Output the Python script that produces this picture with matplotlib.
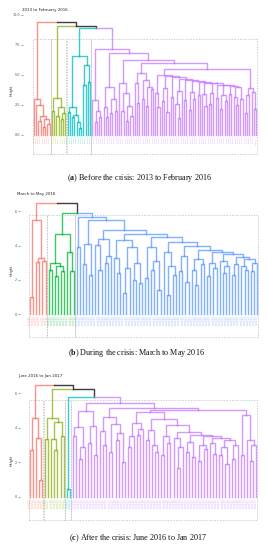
import matplotlib
matplotlib.use("Agg")
import matplotlib.pyplot as plt
from matplotlib.patches import Rectangle

plt.rcParams["mathtext.fontset"] = "custom"
plt.rcParams["mathtext.rm"] = "Liberation Serif"
plt.rcParams["mathtext.bf"] = "Liberation Serif:bold"

# ---------------- data: dendrogram trees (Newick-like, internal node = merge height) -------------
# Panel (a): 2013 to February 2016
TOP_A = "(R,(G,(C,P)8.9)9.1)9.4"
PARTS_A = {
    "R": "(x,(x,((x,x)1.2,((x,x)0.7,(x,x)0.9)1.3)1.6)2.5)3.0",
    "G": "((x,x)2.0,((x,x)1.6,((x,x)1.3,x)1.8)2.35)3.1",
    "C": "(((x,x)1.9,((x,x)1.5,(x,(x,x)0.6)1.1)1.7)2.3,((x,x)4.2,(x,x)4.4)5.8)6.6",
    "P": "(S1,(B1,(D1,(F1,(H1,K1)5.5)6.0)6.25)6.8)7.2",
    "S1": "(x,((x,x)1.1,(x,x)1.5)2.0)2.9",
    "B1": "((x,(x,x)1.5)2.3,((x,x)1.8,(x,x)2.0)3.0)4.0",
    "D1": "(x,((x,x)2.0,((x,x)1.2,(x,x)1.6)2.4)3.5)4.3",
    "F1": "((x,(x,x)2.7)4.3,((x,x)3.0,((x,x)2.4,(x,x)3.8)4.0)4.6)5.2",
    "H1": "(h1,(h2,(h3,(h4,(h5,(h6,(h7,(h8,(h9,(h10,(h11,(h12,(h13,h14)4.0)4.1)4.15)4.2)4.3)4.35)4.4)4.5)4.6)4.7)4.8)4.9)5.0",
    "h1": "(x,(x,x)2.3)3.5",
    "h2": "((x,x)2.8,(x,x)1.9)3.9",
    "h3": "(x,x)3.2",
    "h4": "((x,(x,x)1.4)2.6,x)3.7",
    "h5": "(x,x)2.9",
    "h6": "((x,x)2.1,(x,x)3.0)3.6",
    "h7": "(x,x)3.3",
    "h8": "(x,(x,x)2.4)3.4",
    "h9": "((x,x)2.6,x)3.5",
    "h10": "(x,x)3.1",
    "h11": "((x,x)2.2,(x,x)2.8)3.3",
    "h12": "(x,x)3.4",
    "h13": "(x,(x,x)2.5)3.2",
    "h14": "(x,x)3.0",
    "K1": "(((x,x)1.8,x)3.3,(x,(x,x)2.2)3.6)3.9",
}
COLORS_A = {"R": "#F8766D", "G": "#8DB41A", "C": "#00BFC4", "P": "#C77CFF"}
YTICKS_A = [0, 2.5, 5, 7.5, 10]
YTICKLABELS_A = ["0.0", "2.5", "5.0", "7.5", "10.0"]
BOX_A = (8.0, -1.6)
TITLE_A = "2013 to February 2016"
CAPTION_A = r"($\mathbf{a}$) Before the crisis: 2013 to February 2016"

# Panel (b): March to May 2016
TOP_B = "(R,(G,B)5.9)6.5"
PARTS_B = {
    "R": "((x,x)1.0,((x,x)3.05,(x,x)3.1)3.3)5.5",
    "G": "(((x,x)2.6,((x,x)2.2,(x,x)2.5)2.8)3.0,(x,(x,x)2.5)3.65)4.65",
    "B": "((x,x)3.9,(M1,(M2a,M2b)4.9)5.5)5.7",
    "M1": "((x,x)2.9,(x,x)2.3)4.1",
    "M2a": "((x,(x,x)2.6)4.05,((x,x)3.0,x)3.4)4.4",
    "M2b": "(q1,(q2,(q3,(q4,(q5,(q6,(q7,(q8,(q9,q10)3.2)3.35)3.5)3.6)3.75)3.95)4.2)4.5)4.7",
    "q1": "((x,(x,x)2.4)3.3,(((x,x)1.2,x)2.7,((x,x)2.0,(x,x)1.8)3.0)3.9)4.3",
    "q2": "((x,x)2.1,((x,x)2.6,(x,x)1.4)3.1)3.9",
    "q3": "(x,((x,x)1.1,(x,x)2.3)2.8)3.6",
    "q4": "((x,x)2.5,(x,x)1.9)3.4",
    "q5": "((x,(x,x)1.7)2.6,(x,x)2.9)3.2",
    "q6": "((x,x)2.2,(x,x)2.7)3.0",
    "q7": "(x,((x,x)2.4,x)2.8)3.1",
    "q8": "((x,x)2.3,x)2.9",
    "q9": "(x,(x,x)2.6)2.8",
    "q10": "((x,x)2.5,x)3.0",
}
COLORS_B = {"R": "#F8766D", "G": "#00BA38", "B": "#619CFF"}
YTICKS_B = [0, 2, 4, 6]
YTICKLABELS_B = ["0", "2", "4", "6"]
BOX_B = (5.8, -1.35)
TITLE_B = "March to May 2016"
CAPTION_B = r"($\mathbf{b}$) During the crisis: March to May 2016"

# Panel (c): June 2016 to Jan 2017
TOP_C = "(R,(G,(C,P)5.8)6.24)6.5"
PARTS_C = {
    "R": "((x,x)2.7,(x,(x,x)1.0)3.4)4.55",
    "G": "((x,x)3.35,((x,(x,x)2.7)3.35,(x,x)3.5)4.35)4.55",
    "C": "(x,x)0.45",
    "P": "((P1a,P1b)5.0,(P2a,(P3,K3)5.05)5.15)5.45",
    "P1a": "((x,x)3.5,((x,x)2.2,x)2.9)4.05",
    "P1b": "((x,x)3.1,(x,x)2.4)4.1",
    "P2a": "((x,(x,x)3.0)3.8,((x,x)2.6,((x,x)3.3,(x,x)2.0)3.7)4.2)4.6",
    "P3": "(t1,(t2,(t3,(t4,(t5,(t6,(t7,(t8,t9)3.3)3.4)3.5)3.6)3.75)4.15)4.5)4.9",
    "t1": "(((x,x)2.9,x)3.5,((x,x)3.6,x)3.95)4.3",
    "t2": "((x,x)3.3,(x,(x,x)2.6)3.0)3.9",
    "t3": "((x,x)2.4,(x,x)3.1)3.55",
    "t4": "(x,((x,x)1.7,x)2.9)3.4",
    "t5": "((x,x)2.6,(x,x)2.3)3.2",
    "t6": "((x,x)2.1,(x,x)2.8)3.0",
    "t7": "(x,(x,x)2.5)3.1",
    "t8": "((x,x)2.4,(x,x)1.9)2.9",
    "t9": "((x,x)2.2,x)3.0",
    "K3": "((x,x)2.4,(x,((x,x)2.1,x)3.0)3.3)4.75",
}
COLORS_C = {"R": "#F8766D", "G": "#8DB41A", "C": "#00BFC4", "P": "#C77CFF"}
YTICKS_C = [0, 2, 4, 6]
YTICKLABELS_C = ["0", "2", "4", "6"]
BOX_C = (5.6, -1.35)
TITLE_C = "June 2016 to Jan 2017"
CAPTION_C = r"($\mathbf{c}$) After the crisis: June 2016 to Jan 2017"

LINK_COLOR = "#333333"


# ---------------- helpers ----------------
def parse(s, parts, clusters, cl=None):
    pos = [0]

    def node():
        i = pos[0]
        if s[i] == "(":
            pos[0] += 1
            kids = [node()]
            while s[pos[0]] == ",":
                pos[0] += 1
                kids.append(node())
            pos[0] += 1
            st = pos[0]
            while pos[0] < len(s) and s[pos[0]] not in ",)":
                pos[0] += 1
            return {"h": float(s[st:pos[0]]), "kids": kids, "cl": cl}
        st = i
        while pos[0] < len(s) and s[pos[0]] not in ",)":
            pos[0] += 1
        tok = s[st:pos[0]]
        if tok == "x":
            return {"h": 0.0, "kids": [], "cl": cl}
        new_cl = tok if tok in clusters else cl
        return parse(parts[tok], parts, clusters, new_cl)

    return node()


def layout(node, leaves):
    if not node["kids"]:
        node["x"] = float(len(leaves))
        leaves.append(node)
        return
    for k in node["kids"]:
        layout(k, leaves)
    node["x"] = sum(k["x"] for k in node["kids"]) / len(node["kids"])


def draw_tree(ax, node, colors):
    for k in node["kids"]:
        if k["cl"] is not None:
            c, a = colors[k["cl"]], 0.78
        else:
            c, a = LINK_COLOR, 0.95
        ax.plot([k["x"], k["x"], node["x"]], [k["h"], node["h"], node["h"]],
                color=c, lw=1.0, alpha=a)
        draw_tree(ax, k, colors)


W, H = 268, 550
fig = plt.figure(figsize=(W / 100, H / 100), dpi=100)


def panel(top, parts, colors, yticks, yticklabels, box, title, caption, geo, lab_fs):
    x0, x1, y0, k, axl, axr, axt, axb, title_xy, height_y, cap_xy = geo
    tree = parse(top, parts, set(colors.keys()))
    leaves = []
    layout(tree, leaves)
    n = len(leaves)
    dx = (x1 - x0) / (n - 1)
    ax = fig.add_axes([axl / W, 1 - axb / H, (axr - axl) / W, (axb - axt) / H])
    ax.set_xlim((axl - x0) / dx, (axr - x0) / dx)
    ax.set_ylim((y0 - axb) / k, (y0 - axt) / k)
    for s in ax.spines.values():
        s.set_visible(False)
    ax.set_xticks([])
    ax.set_yticks(yticks)
    ax.set_yticklabels(yticklabels)
    ax.tick_params(axis="y", length=1.4, width=0.4, pad=0.6, labelsize=2.4,
                   colors="#555555")
    top_h, bot_h = box
    for name in colors:
        idx = [lf["x"] for lf in leaves if lf["cl"] == name]
        if not idx:
            continue
        a, b = min(idx) - 0.42, max(idx) + 0.42
        ax.add_patch(Rectangle((a, bot_h), b - a, top_h - bot_h, fill=False,
                               edgecolor="#c4c4c4", lw=0.55,
                               linestyle=(0, (2.0, 1.6))))
    draw_tree(ax, tree, colors)
    labels = ["stock%02d" % (i + 1) for i in range(n)]
    for lf, lab in zip(leaves, labels):
        ax.text(lf["x"], -0.08, lab, rotation=90, ha="center", va="top",
                fontsize=lab_fs, color=colors[lf["cl"]], alpha=0.6)
    fig.text(title_xy[0] / W, 1 - title_xy[1] / H, title, fontsize=2.9,
             ha="left", va="center", color="#222222")
    fig.text(11.5 / W, 1 - height_y / H, "Height", rotation=90, fontsize=2.4,
             ha="center", va="center", color="#333333")
    fig.text(cap_xy[0] / W, 1 - cap_xy[1] / H, caption, fontsize=5.9,
             family="Liberation Serif", ha="center", va="center", color="#111111")


panel(TOP_A, PARTS_A, COLORS_A, YTICKS_A, YTICKLABELS_A, BOX_A, TITLE_A, CAPTION_A,
      (34, 256, 135, 12.0, 23, 262, 8, 160, (22, 10.5), 90, (139.5, 178)), 1.35)
panel(TOP_B, PARTS_B, COLORS_B, YTICKS_B, YTICKLABELS_B, BOX_B, TITLE_B, CAPTION_B,
      (30, 257, 314, 17.1, 20, 262, 196, 342, (17, 193.5), 270, (136, 353)), 1.8)
panel(TOP_C, PARTS_C, COLORS_C, YTICKS_C, YTICKLABELS_C, BOX_C, TITLE_C, CAPTION_C,
      (30, 256, 497, 17.3, 20, 262, 378, 525, (18, 375.5), 460, (137.5, 538)), 1.8)

fig.savefig("out.png", dpi=100)
